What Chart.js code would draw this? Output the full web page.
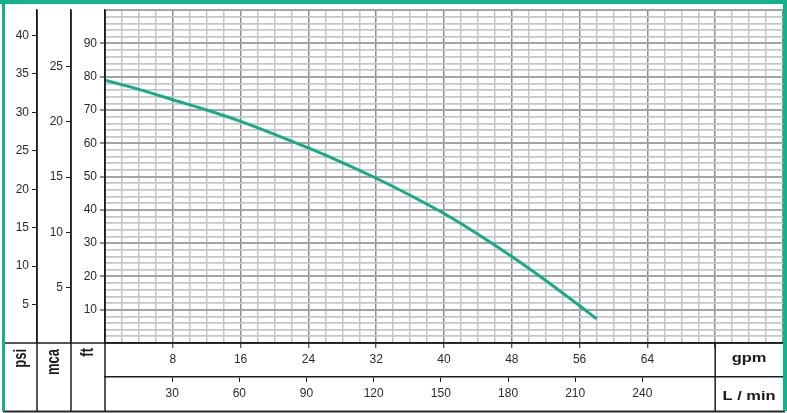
<!DOCTYPE html>
<html>
<head>
<meta charset="utf-8">
<script src="https://cdn.jsdelivr.net/npm/chart.js@4.4.1/dist/chart.umd.min.js"></script>
<style>
  html, body { margin: 0; padding: 0; background: #ffffff; }
  canvas { display: block; }
</style>
</head>
<body>
<canvas id="c" width="787" height="413"></canvas>
<script>
// ---- data ----
const flowGpm = [0, 4, 8, 12, 16, 20, 24, 28, 32, 36, 40, 44, 48, 52, 56, 58];
const headFt  = [79, 76.2, 73.1, 70.0, 66.6, 62.7, 58.6, 54.2, 49.5, 44.4, 38.9, 32.7, 26.0, 18.8, 11.2, 7.3];

const gpmTickLabels  = [8, 16, 24, 32, 40, 48, 56, 64];
const lminTickLabels = [30, 60, 90, 120, 150, 180, 210, 240];
const ftTickLabels   = [10, 20, 30, 40, 50, 60, 70, 80, 90];
const mcaTickLabels  = [5, 10, 15, 20, 25];
const psiTickLabels  = [5, 10, 15, 20, 25, 30, 35, 40];

const GREEN = '#13b28d';
const CURVE = '#17aa8b';
const DARK = '#1e1e1e';
const TXT = '#2b2b2b';
const FONT = '"Liberation Sans", Arial, sans-serif';
const TICK_SIZE = 12;

const points = flowGpm.map((q, i) => ({ x: q, y: headFt[i] }));

function labelIf(list) {
  return (v) => list.includes(Math.round(v * 1000) / 1000) ? String(v) : '';
}
function tickColorIf(list) {
  return (c) => (c.tick && list.includes(Math.round(c.tick.value * 1000) / 1000)) ? DARK : 'rgba(0,0,0,0)';
}

const sideAxis = (list, min, max, step, weight) => ({
  type: 'linear', position: 'left', min, max, weight,
  ticks: { stepSize: step, autoSkip: false, padding: 3, color: TXT,
           font: { family: FONT, size: TICK_SIZE }, callback: labelIf(list) },
  grid: { display: true, drawOnChartArea: false, drawTicks: true, tickLength: 5,
          tickWidth: 1, tickColor: tickColorIf(list) },
  border: { display: true, color: DARK, width: 1.5 },
  afterFit: (s) => { s.width = 34; }
});

const framePlugin = {
  id: 'frame',
  afterDraw(chart) {
    const { ctx, chartArea } = chart;
    const s = chart.scales;
    const W = chart.width;
    const bottom = s.lmin.bottom;
    const leftEdge = 3;
    const line = (x1, y1, x2, y2, w, col) => {
      ctx.beginPath(); ctx.lineWidth = w; ctx.strokeStyle = col;
      ctx.moveTo(x1, y1); ctx.lineTo(x2, y2); ctx.stroke();
    };
    ctx.save();
    // table dividers
    line(leftEdge, chartArea.bottom, chartArea.right, chartArea.bottom, 1.5, DARK);
    [s.psi.right, s.mca.right, chartArea.left].forEach(x => line(x, chartArea.top, x, bottom, 1.5, DARK));
    const xDiv = s.gpm.getPixelForValue(72);
    line(xDiv, chartArea.bottom, xDiv, bottom, 1.5, DARK);
    line(leftEdge, bottom + 0.5, W - 2, bottom + 0.5, 2.2, '#2a2a2a');

    // row labels
    ctx.fillStyle = '#1a1a1a';
    ctx.font = 'bold 13px ' + FONT;
    const rot = (t, cx, topY, sy) => {
      ctx.save(); ctx.translate(cx, topY); ctx.rotate(-Math.PI / 2); ctx.scale(1, sy);
      ctx.textAlign = 'right'; ctx.textBaseline = 'middle'; ctx.fillText(t, 0, 0); ctx.restore();
    };
    const cellMid = (a, b) => (a + b) / 2;
    rot('psi', cellMid(s.psi.left, s.psi.right) + 1, chartArea.bottom + 6, 1.4);
    rot('mca', cellMid(s.mca.left, s.mca.right), chartArea.bottom + 6, 1.4);
    rot('ft', cellMid(s.ft.left, s.ft.right), chartArea.bottom + 5, 1.4);

    ctx.font = 'bold 13px ' + FONT;
    const hor = (t, cx, by) => {
      ctx.save(); ctx.translate(cx, by); ctx.scale(1.27, 1);
      ctx.textAlign = 'center'; ctx.textBaseline = 'alphabetic'; ctx.fillText(t, 0, 0); ctx.restore();
    };
    const cx = cellMid(xDiv, chartArea.right);
    hor('gpm', cx, s.gpm.top + 19);
    hor('L / min', cx, s.lmin.top + 23);

    // green outer frame (left, top, right)
    ctx.fillStyle = GREEN;
    ctx.fillRect(2, 0, 3, bottom);
    ctx.fillRect(0, 0, W, 4);
    ctx.fillRect(W - 4, 0, 4, bottom);
    ctx.restore();
  }
};

new Chart(document.getElementById('c'), {
  type: 'line',
  data: {
    datasets: [{
      data: points,
      xAxisID: 'gpm', yAxisID: 'ft',
      borderColor: CURVE, borderWidth: 3,
      pointRadius: 0, fill: false,
      cubicInterpolationMode: 'monotone'
    }]
  },
  options: {
    responsive: false, animation: false, devicePixelRatio: 1,
    layout: { padding: { left: 3, right: 2, top: 3, bottom: 2 } },
    plugins: { legend: { display: false }, tooltip: { enabled: false } },
    scales: {
      gpm: {
        type: 'linear', position: 'bottom', min: 0, max: 80, weight: 1,
        ticks: { stepSize: 2, autoSkip: false, maxRotation: 0, minRotation: 0, padding: 4,
                 color: TXT, font: { family: FONT, size: TICK_SIZE }, callback: labelIf(gpmTickLabels) },
        grid: {
          color: (c) => (c.tick && c.tick.value % 8 === 0) ? '#8c8c8c' : '#c6c6c8',
          lineWidth: 1.5, tickLength: 5, tickWidth: 1,
          tickColor: tickColorIf(gpmTickLabels.concat([72]))
        },
        border: { display: true, color: DARK, width: 1.5 },
        afterFit: (s) => { s.height = 34; }
      },
      lmin: {
        type: 'linear', position: 'bottom', min: 0, max: 302.8, weight: 2,
        ticks: { stepSize: 30, autoSkip: false, maxRotation: 0, minRotation: 0, padding: 4,
                 color: TXT, font: { family: FONT, size: TICK_SIZE }, callback: labelIf(lminTickLabels) },
        grid: { display: true, drawOnChartArea: false, drawTicks: true, tickLength: 5, tickWidth: 1,
                tickColor: tickColorIf(lminTickLabels) },
        border: { display: true, color: DARK, width: 1.5 },
        afterFit: (s) => { s.height = 34; }
      },
      ft: {
        type: 'linear', position: 'left', min: 0, max: 100, weight: 1,
        ticks: { stepSize: 2, autoSkip: false, padding: 3, color: TXT,
                 font: { family: FONT, size: TICK_SIZE }, callback: labelIf(ftTickLabels) },
        grid: {
          color: (c) => (c.tick && c.tick.value % 10 === 0) ? '#a4a4a6' : '#c6c6c8',
          lineWidth: (c) => (c.tick && c.tick.value % 10 === 0) ? 2 : 1.7,
          tickLength: 5, tickWidth: 1, tickColor: tickColorIf(ftTickLabels)
        },
        border: { display: true, color: DARK, width: 1.5 },
        afterFit: (s) => { s.width = 34; }
      },
      mca: sideAxis(mcaTickLabels, 0, 30.1, 5, 2),
      psi: sideAxis(psiTickLabels, 0, 43.3, 5, 3)
    }
  },
  plugins: [framePlugin]
});
</script>
</body>
</html>
